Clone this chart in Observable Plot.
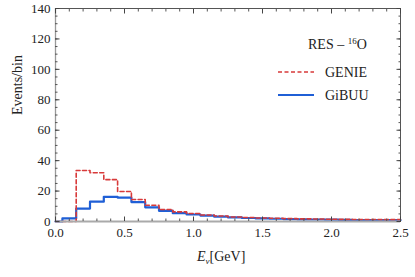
<!DOCTYPE html>
<html><head><meta charset="utf-8">
<script src="https://cdn.jsdelivr.net/npm/d3@7"></script>
<script src="https://cdn.jsdelivr.net/npm/@observablehq/plot@0.6"></script>
<style>
body{margin:0;background:#fff;}
#wrap{position:relative;width:415px;height:277px;font-family:"Liberation Serif",serif;color:#222;}
.ov{position:absolute;white-space:nowrap;font-family:"Liberation Serif",serif;color:#222;line-height:1;}
</style></head>
<body><div id="wrap"></div>
<script>
const binCenters = [0.0,0.1,0.2,0.3,0.4,0.5,0.6,0.7,0.8,0.9,1.0,1.1,1.2,1.3,1.4,1.5,1.6,1.7,1.8,1.9,2.0,2.1,2.2,2.3,2.4,2.5];
const genie = [0,0,33.5,32,27.5,19.7,14.5,10.7,7.9,6.3,5.3,4.3,3.6,3.0,2.6,2.3,2.1,1.9,1.7,1.6,1.5,1.4,1.3,1.3,1.2,1.2];
const gibuu = [0,2,8.5,13,16.2,15.7,12.8,9.3,7.0,5.5,4.6,3.9,3.2,2.7,2.3,2.0,1.8,1.6,1.4,1.3,1.2,1.1,1.0,1.0,0.9,0.9];
const xTicks = [0,0.5,1.0,1.5,2.0,2.5];
const yTicks = [0,20,40,60,80,100,120,140];
const xMinor = d3.range(0,2.5001,0.1);
const yMinor = d3.range(0,140.01,5);
const seriesNames = ["GENIE","GiBUU"];
const colors = ["#d83a3a","#1f5fd6"];

const rowsG = binCenters.map((x,i)=>({x, y: genie[i]}));
const rowsB = binCenters.map((x,i)=>({x, y: gibuu[i]}));

const font = "Liberation Serif";
const tk = (data, anchor, size, stroke, isX) =>
  (isX ? Plot.axisX : Plot.axisY)(data, {anchor, tickSize: size, text: null, label: null, stroke});
const chart = Plot.plot({
  width: 415, height: 277,
  marginLeft: 55, marginRight: 15, marginTop: 8, marginBottom: 56,
  style: {fontFamily: font, fontSize: "13px", color: "#222", background: "#fff"},
  x: {domain: [0, 2.5], label: null},
  y: {domain: [0, 140], label: null},
  marks: [
    Plot.line(rowsB, {x: "x", y: "y", curve: "step", stroke: colors[1], strokeWidth: 2.2}),
    Plot.line(rowsG, {x: "x", y: "y", curve: "step", stroke: colors[0], strokeWidth: 1.6, strokeDasharray: "4,2.5"}),
    Plot.frame({stroke: "#555", strokeWidth: 1}),
    Plot.ruleY([0], {stroke: "#aaa", strokeWidth: 1.8}),
    Plot.ruleX([0], {stroke: "#999", strokeWidth: 1.3}),
    tk(xMinor, "bottom", -2.5, "#555", true),
    tk(xMinor, "top", -2.5, "#555", true),
    tk(yMinor, "left", -2.5, "#555", false),
    tk(yMinor, "right", -2.5, "#555", false),
    tk(xTicks, "bottom", -4.5, "#444", true),
    tk(xTicks, "top", -4.5, "#444", true),
    tk(yTicks, "left", -4.5, "#444", false),
    tk(yTicks, "right", -4.5, "#444", false),
    Plot.axisX(xTicks, {anchor: "bottom", tickSize: 0, tickPadding: 6, tickFormat: d => d.toFixed(1), label: null, fontSize: 13}),
    Plot.axisY(yTicks, {anchor: "left", tickSize: 0, tickPadding: 5, label: null, fontSize: 13}),
    Plot.text(["Events/bin"], {frameAnchor: "left", text: d => d, rotate: -90, dx: -38, fontSize: 14})
  ]
});
const wrap = document.getElementById("wrap");
wrap.appendChild(chart);

function ov(html, left, top, size){
  const d = document.createElement("div");
  d.className = "ov"; d.innerHTML = html;
  d.style.left = left + "px"; d.style.top = top + "px"; d.style.fontSize = size + "px";
  d.style.fontFamily = "'Liberation Serif', serif";
  wrap.appendChild(d);
  return d;
}
ov('<i>E</i><span style="font-size:9px;position:relative;top:3px"><i>ν</i></span>[GeV]', 197, 250, 14);
ov('RES – <span style="font-size:9px;position:relative;top:-5px">16</span>O', 308, 38, 14);
ov(seriesNames[0], 325, 66, 14);
ov(seriesNames[1], 325, 89, 14);
const ns = "http://www.w3.org/2000/svg";
const lg = document.createElementNS(ns, "svg");
lg.setAttribute("width", 40); lg.setAttribute("height", 40);
lg.style.position = "absolute"; lg.style.left = "276px"; lg.style.top = "62px";
[[10, colors[0], "4,2.5", 1.6], [33, colors[1], null, 2.2]].forEach(([y, c, da, w]) => {
  const l = document.createElementNS(ns, "line");
  l.setAttribute("x1", 2); l.setAttribute("x2", 38); l.setAttribute("y1", y); l.setAttribute("y2", y);
  l.setAttribute("stroke", c); l.setAttribute("stroke-width", w);
  if (da) l.setAttribute("stroke-dasharray", da);
  lg.appendChild(l);
});
wrap.appendChild(lg);
</script></body></html>
